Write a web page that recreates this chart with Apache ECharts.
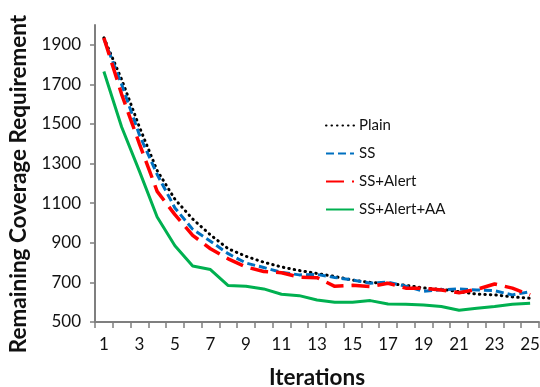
<!DOCTYPE html>
<html>
<head>
<meta charset="utf-8">
<script src="https://cdn.jsdelivr.net/npm/echarts@6/dist/echarts.min.js"></script>
<style>html,body{margin:0;padding:0;background:#fff}#c{width:540px;height:387px}</style>
</head>
<body>
<div id="c"></div>
<script>
const iterations = ['1','2','3','4','5','6','7','8','9','10','11','12','13','14','15','16','17','18','19','20','21','22','23','24','25'];
const plain = [1935,1725,1485,1265,1120,1020,940,870,832,802,778,760,745,730,712,700,695,685,672,665,653,641,637,627,620];
const ss = [1930,1700,1445,1245,1076,968,908,845,798,775,751,738,740,725,712,696,701,681,655,663,667,662,658,637,653];
const ssAlert = [1935,1650,1400,1160,1042,938,870,819,778,755,749,727,724,680,685,679,696,671,670,662,648,665,692,671,637];
const ssAlertAA = [1765,1485,1262,1030,885,783,765,684,681,667,640,633,611,600,600,608,591,590,586,578,559,569,578,590,595];
const yTickValues = [500,700,900,1100,1300,1500,1700,1900];
const seriesNames = ['Plain','SS','SS+Alert','SS+Alert+AA'];

const font = 'Lato, "Open Sans", sans-serif';
const chart = echarts.init(document.getElementById('c'), null, {renderer:'canvas'});
function line(name, data, color, width, type, cap) {
  return {
    name, type:'line', data, symbol:'none', smooth:false,
    lineStyle:{color, width, type, cap: cap || 'butt'},
    itemStyle:{color},
    emphasis:{disabled:true}
  };
}
chart.setOption({
  animation:false,
  backgroundColor:'#fff',
  grid:{left:95, right:1, top:25, bottom:65, containLabel:false, outerBoundsMode:'none'},
  legend:{
    orient:'vertical', left:320, top:113,
    itemWidth:28, itemHeight:14, itemGap:13,
    itemStyle:{opacity:0},
    textStyle:{fontFamily:font, fontSize:15, color:'#111'},
    data:seriesNames
  },
  xAxis:{
    type:'category', data:iterations, boundaryGap:true,
    name:'Iterations', nameLocation:'middle', nameGap:44,
    nameTextStyle:{fontFamily:font, fontSize:22.5, fontWeight:'bold', color:'#111'},
    axisLine:{lineStyle:{color:'#7f7f7f', width:2}},
    axisTick:{show:true, interval:0, length:6, lineStyle:{color:'#7f7f7f', width:1.5}},
    axisLabel:{interval:1, fontFamily:font, fontSize:17, color:'#111', margin:14},
    splitLine:{show:false}
  },
  yAxis:{
    type:'value', min:500, max:2000, interval:100,
    axisLine:{show:true, lineStyle:{color:'#7f7f7f', width:2}},
    axisTick:{show:true, length:5, customValues:yTickValues, lineStyle:{color:'#7f7f7f', width:1.5}},
    axisLabel:{customValues:yTickValues, formatter:function(v){return String(v);}, fontFamily:font, fontSize:17, color:'#111', margin:14},
    splitLine:{show:false}
  },
  graphic:[{
    type:'text', x:19, y:184, rotation:Math.PI/2,
    style:{text:'Remaining Coverage Requirement', fontFamily:font, fontSize:22.5, fontWeight:'bold', fill:'#111', align:'center', verticalAlign:'middle'}
  }],
  series:[
    line(seriesNames[0], plain, '#000000', 3, [0.5,5], 'round'),
    line(seriesNames[1], ss, '#0070C0', 3, [8,4]),
    line(seriesNames[2], ssAlert, '#FF0000', 3.5, [18,8]),
    line(seriesNames[3], ssAlertAA, '#00B050', 3, 'solid')
  ]
});
</script>
</body>
</html>
